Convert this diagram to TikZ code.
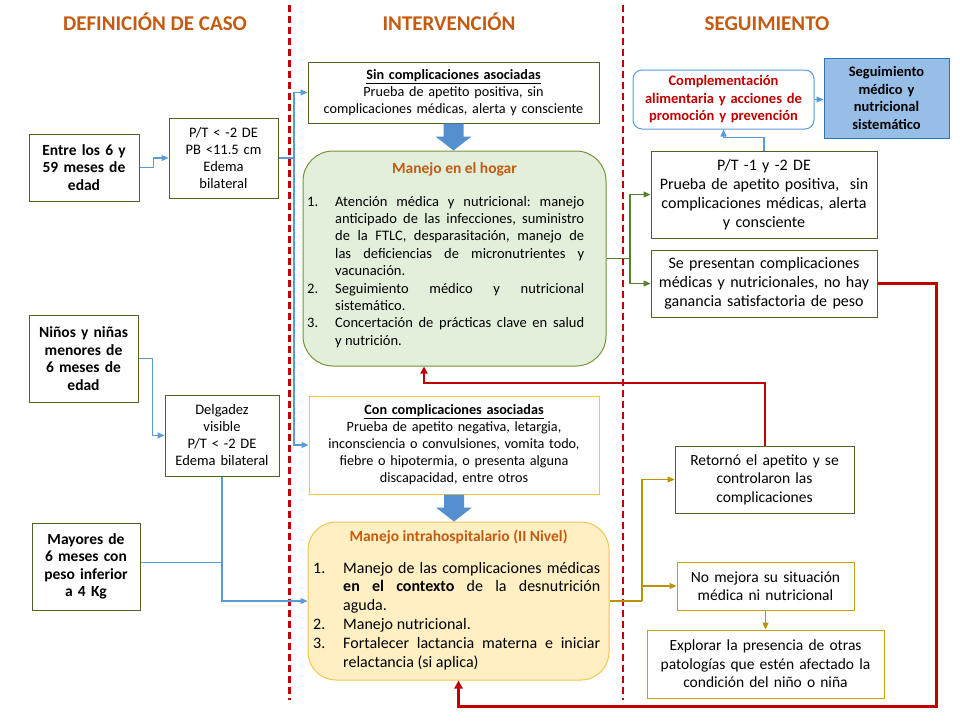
\documentclass[tikz,border=0pt]{standalone}
\usepackage{fontspec}
\setmainfont{Carlito}
\usetikzlibrary{arrows.meta,calc}
\frenchspacing
\definecolor{hdr}{RGB}{197,90,17}
\definecolor{dred}{RGB}{192,0,0}
\definecolor{boxgreen}{RGB}{79,98,40}
\definecolor{gold1}{RGB}{244,196,60}
\definecolor{gold2}{RGB}{200,160,20}
\definecolor{lblue}{RGB}{91,155,213}
\definecolor{fatblue}{RGB}{84,144,208}
\definecolor{lgreen}{RGB}{84,130,53}
\definecolor{lgold}{RGB}{191,144,0}
\definecolor{hogarfill}{RGB}{226,239,218}
\definecolor{hogardraw}{RGB}{118,146,60}
\definecolor{intrafill}{RGB}{255,239,194}
\definecolor{intradraw}{RGB}{244,198,80}
\definecolor{segfill}{RGB}{150,190,230}
\definecolor{segdraw}{RGB}{46,117,182}
\newcommand\fs[2]{\fontsize{#1}{#2}\selectfont}
\newcommand\itm[3]{\hangindent=#1\hangafter=1\noindent\hbox to #1{#2\hfil}#3\par}
\newcommand\fatarr[2]{\fill[fatblue] ($(#1.south)+(-10,0)$) -- ($(#2.north -| #1.south)+(-10,-14)$) -- ($(#2.north -| #1.south)+(-18,-14)$) -- (#2.north -| #1.south) -- ($(#2.north -| #1.south)+(18,-14)$) -- ($(#2.north -| #1.south)+(10,-14)$) -- ($(#1.south)+(10,0)$) -- cycle;}
\tikzset{
 box/.style={draw, line width=1pt, inner sep=0pt, align=center, text=black, fill=white},
 gbox/.style={box, draw=boxgreen},
 ybox/.style={box, draw=gold1},
 y2box/.style={box, draw=gold2},
 hdrs/.style={text=hdr, font=\bfseries\fs{21}{25}, inner sep=0pt, anchor=base},
 ttl/.style={text=hdr, font=\bfseries\fs{15.5}{18}, inner sep=0pt},
 listn/.style={inner sep=0pt, align=justify, text=black},
 divider/.style={draw=dred, line width=2.2pt, dash pattern=on 7pt off 4pt},
 bl/.style={draw=lblue, line width=1.2pt},
 blA/.style={bl, -{Triangle[length=7pt,width=6pt]}},
 gr/.style={draw=lgreen, line width=1.2pt},
 grA/.style={gr, -{Triangle[length=7pt,width=6pt]}},
 yl/.style={draw=lgold, line width=1.3pt},
 ylA/.style={yl, -{Triangle[length=7pt,width=6pt]}},
 redA/.style={draw=dred, line width=2pt, -{Triangle[length=7pt,width=7pt]}},
 redB/.style={draw=dred, line width=3pt, -{Triangle[length=8pt,width=8pt]}},
}
\begin{document}
\begin{tikzpicture}[x=1pt,y=-1pt]
\useasboundingbox[fill=white] (0,0) rectangle (960,720);

% headers
\node[hdrs] (h1) at (155,30) {DEFINICIÓN DE CASO};
\node[hdrs] (h2) at (449,30) {INTERVENCIÓN};
\node[hdrs] (h3) at (767,30) {SEGUIMIENTO};
\draw[divider] (289.5,5) -- (289.5,700);
\draw[divider] (623,5) -- (623,700);

% left column
\node[gbox, minimum width=110, minimum height=67, text width=104, font=\bfseries\fs{15.5}{17.5}] (A) at (84,167.5) {Entre los 6 y\\59 meses de\\edad};
\node[gbox, minimum width=109, minimum height=80, text width=104, font=\fs{14.5}{17}] (B) at (223.5,158) {P/T < -2 DE\\PB <11.5 cm\\Edema\\bilateral};
\node[gbox, minimum width=109, minimum height=87, text width=104, font=\bfseries\fs{15.5}{17.5}] (C) at (83.5,358.5) {Niños y niñas\\menores de\\6 meses de\\edad};
\node[gbox, minimum width=114, minimum height=81, text width=110, font=\fs{14.5}{17}] (D) at (222,435.5) {Delgadez\\visible\\P/T < -2 DE\\Edema bilateral};
\node[gbox, minimum width=108, minimum height=87, text width=104, font=\bfseries\fs{15.5}{17.5}] (E) at (86,566.5) {Mayores de\\6 meses con\\peso inferior\\a 4 Kg};

% middle column
\node[gbox, minimum width=291, minimum height=61, text width=285, font=\fs{14.2}{17}] (sin) at (453.5,92.5) {\underline{\textbf{Sin complicaciones asociadas}}\\Prueba de apetito positiva, sin\\complicaciones médicas, alerta y consciente};
\node[draw=hogardraw, fill=hogarfill, line width=1pt, rounded corners=30pt, minimum width=303, minimum height=215, inner sep=0pt] (hogar) at (454.5,258.5) {};
\node[ttl] (hogarT) at (454.5,169) {Manejo en el hogar};
\node[listn, text width=277, anchor=base west, font=\fs{14.5}{17.4}] (hogarL) at (307,206) {\tolerance=10000\hyphenpenalty=10000\exhyphenpenalty=10000%
\itm{28pt}{1.}{Atención médica y nutricional: manejo\linebreak anticipado de las infecciones, suministro\linebreak de la FTLC, desparasitación, manejo de\linebreak las deficiencias de micronutrientes y\linebreak vacunación.}%
\itm{28pt}{2.}{Seguimiento médico y nutricional\linebreak sistemático.}%
\itm{28pt}{3.}{Concertación de prácticas clave en salud\linebreak y nutrición.}};

\node[ybox, minimum width=290, minimum height=98, text width=284, font=\fs{14.2}{17}] (con) at (454,445) {\underline{\textbf{Con complicaciones asociadas}}\\Prueba de apetito negativa, letargia,\\inconsciencia o convulsiones, vomita todo,\\fiebre o hipotermia, o presenta alguna\\discapacidad, entre otros};
\node[draw=intradraw, fill=intrafill, line width=1pt, rounded corners=28pt, minimum width=301, minimum height=158, inner sep=0pt] (intra) at (458.5,601) {};
\node[ttl] (intraT) at (458.5,537) {Manejo intrahospitalario (II Nivel)};
\node[listn, text width=287, anchor=base west, font=\fs{16}{18.8}] (intraL) at (313,573) {\tolerance=10000\hyphenpenalty=10000\exhyphenpenalty=10000%
\itm{30pt}{1.}{Manejo de las complicaciones médicas\linebreak \textbf{en el contexto} de la desnutrición\linebreak aguda.}%
\itm{30pt}{2.}{Manejo nutricional.}%
\itm{30pt}{3.}{Fortalecer lactancia materna e iniciar\linebreak relactancia (si aplica)}};

\fatarr{sin}{hogar}
\fatarr{con}{intra}

% right column
\node[box, draw=lblue, rounded corners=9pt, minimum width=181, minimum height=59, text width=178, text=dred, font=\bfseries\fs{14.5}{17.5}] (comp) at (723.5,99.5) {Complementación\\alimentaria y acciones de\\promoción y prevención};
\node[box, draw=segdraw, fill=segfill, minimum width=125, minimum height=80, text width=120, font=\bfseries\fs{14.5}{17.5}] (seg) at (886.5,98) {Seguimiento\\médico y\\nutricional\\sistemático};
\node[gbox, minimum width=226, minimum height=87, text width=222, font=\fs{16}{19}] (P) at (764,194.5) {P/T -1 y -2 DE\\Prueba de apetito positiva,~ sin\\complicaciones médicas, alerta\\y consciente};
\node[gbox, minimum width=226, minimum height=67, text width=222, font=\fs{16}{19}] (SeP) at (764,283.5) {Se presentan complicaciones\\médicas y nutricionales, no hay\\ganancia satisfactoria de peso};
\node[gbox, minimum width=179, minimum height=67, text width=175, font=\fs{15.5}{18.5}] (ret) at (764.5,479.5) {Retornó el apetito y se\\controlaron las\\complicaciones};
\node[y2box, minimum width=177, minimum height=48, text width=173, font=\fs{15.5}{18.5}] (nom) at (765.5,586) {No mejora su situación\\médica ni nutricional};
\node[y2box, minimum width=237, minimum height=68, text width=233, font=\fs{15.5}{18.5}] (exp) at (765.5,664) {Explorar la presencia de otras\\patologías que estén afectado la\\condición del niño o niña};

% junction coordinates
\coordinate (jB) at (294,0);
\coordinate (jG) at (630,0);
\coordinate (jY) at (642,0);
\coordinate (r1) at (424,383);
\coordinate (r2) at (936,706);

% blue connectors
\draw[blA] (A.east) -- ++(14,0) |- (B.west);
\draw[bl] (B.east) -- (B.east -| jB);
\draw[blA] (B.east -| jB) |- (sin.west);
\draw[blA] (B.east -| jB) |- (con.west);
\draw[blA] (C.east) -- ++(14,0) |- (D.west);
\draw[blA] (D.south) |- (intra.west);
\draw[bl] ([yshift=4pt]E.east) -- ([yshift=4pt]E.east -| D.south);
\draw[blA] (comp.east) -- (comp.east -| seg.west);
\draw[blA] (P.north) -- ++(0,-13) -| (comp.south);

% green connectors
\draw[gr] (hogar.east) -- (hogar.east -| jG);
\draw[grA] (hogar.east -| jG) |- (P.west);
\draw[grA] (hogar.east -| jG) |- (SeP.west);

% gold connectors
\draw[yl] (intra.east) -- (intra.east -| jY);
\draw[ylA] (intra.east -| jY) |- (ret.west);
\draw[ylA] (intra.east -| jY) |- (nom.west);
\draw[ylA] (nom.south) -- (exp.north);

% red connectors
\draw[redA] (ret.north) |- (r1) -- (r1 |- hogar.south);
\draw[redB] (SeP.east) -| (r2) -- (r2 -| intra.south) -- (intra.south);
\end{tikzpicture}
\end{document}
